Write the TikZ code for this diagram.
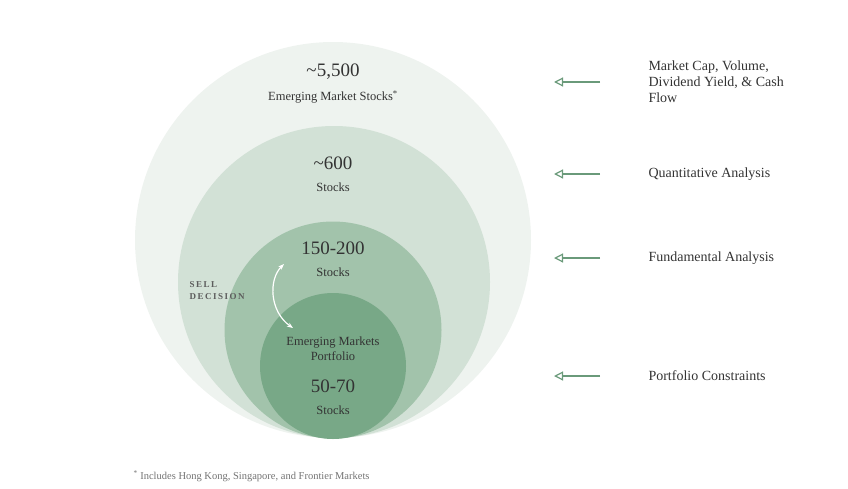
\documentclass[tikz,border=0pt]{standalone}
\usepackage{fontspec}
\setmainfont{Liberation Serif}
\usetikzlibrary{arrows.meta}
\definecolor{c1}{HTML}{EEF3EF}
\definecolor{c2}{HTML}{D2E1D6}
\definecolor{c3}{HTML}{A2C3AB}
\definecolor{c4}{HTML}{78A887}
\definecolor{arr}{HTML}{6A9A7A}
\definecolor{txt}{HTML}{333333}
\tikzset{
  big/.style={font=\fontsize{19}{20}\selectfont, text=txt},
  small/.style={font=\fontsize{12.5}{14}\selectfont, text=txt, align=center},
  lab/.style={font=\fontsize{14}{16}\selectfont, text=txt, anchor=west, align=left},
  larrow/.style={draw=arr, line width=1.2pt, -{Stealth[length=9pt,width=9pt,inset=0pt,open]}},
}
\begin{document}
\begin{tikzpicture}[x=1pt,y=-1pt]
\useasboundingbox (0,0) rectangle (848,488);
\fill[c1] (333,240) circle (198);
\fill[c2] (334,282) circle (156);
\fill[c3] (333,330) circle (108.5);
\fill[c4] (333,366) circle (73);
\node[big] (n1) at (333,72) {\textasciitilde5,500};
\node[small] (t1) at (333,97) {Emerging Market Stocks\textsuperscript{*}};
\node[big] (n2) at (333,163) {\textasciitilde600};
\node[small] (t2) at (333,187) {Stocks};
\node[big] (n3) at (333,248) {150-200};
\node[small] (t3) at (333,272) {Stocks};
\node[small, font=\fontsize{12.5}{15}\selectfont] (t4) at (333,349) {Emerging Markets\\Portfolio};
\node[big] (n4) at (333,386) {50-70};
\node[small] (t5) at (333,410) {Stocks};
\node[font=\fontsize{9}{12}\selectfont\bfseries, text=txt!80, align=left, anchor=west] (sd) at (186,291) {S\,E\,L\,L\\D\,E\,C\,I\,S\,I\,O\,N};
\coordinate (sa) at (284,264);
\coordinate (sb) at (293,328);
\draw[white, line width=1.2pt, {Stealth[length=6pt]}-{Stealth[length=6pt]}] (sa) .. controls (268,280) and (270,312) .. (sb);
\foreach \y/\t/\n in {82/{Market Cap, Volume,\\Dividend Yield, \& Cash\\Flow}/a, 174/{Quantitative Analysis}/b, 258/{Fundamental Analysis}/c, 376/{Portfolio Constraints}/d}{
  \node[lab] (l\n) at (645,\y) {\t};
  \coordinate (e\n) at (600,\y);
  \coordinate (s\n) at (554,\y);
  \draw[larrow] (e\n) -- (s\n);
}
\node[font=\fontsize{10.5}{12}\selectfont, text=black!55, anchor=west] (fn) at (130,476) {\textsuperscript{*} Includes Hong Kong, Singapore, and Frontier Markets};
\end{tikzpicture}
\end{document}
